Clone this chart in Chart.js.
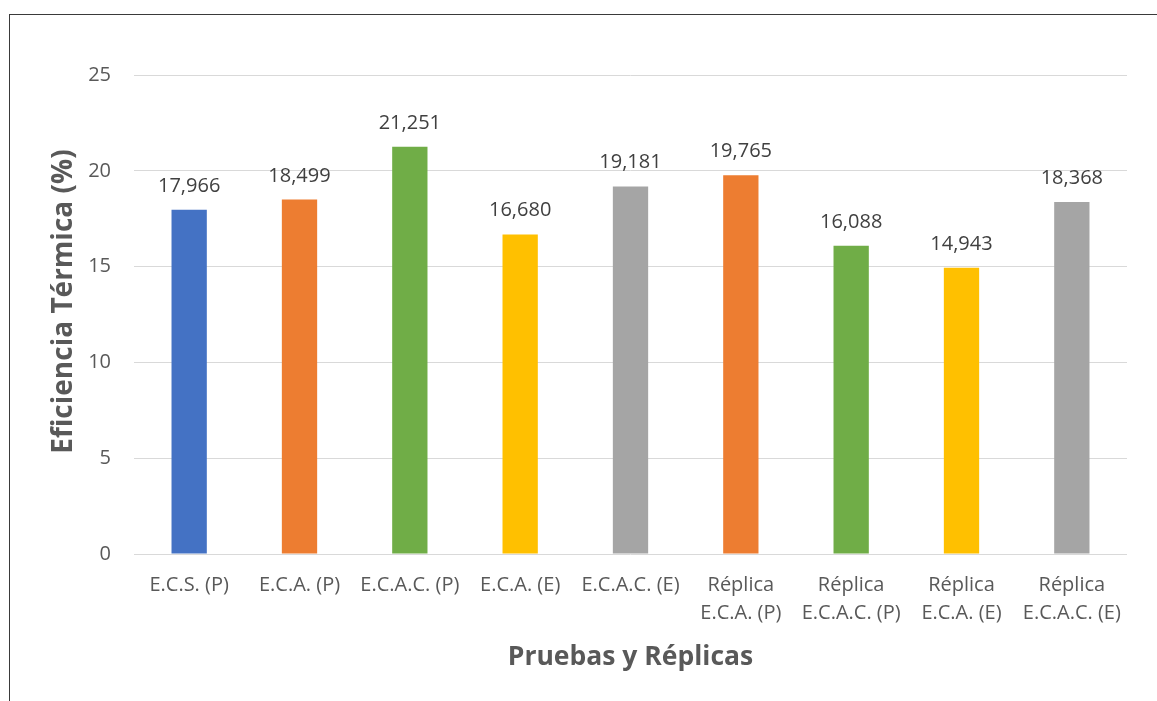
<!DOCTYPE html>
<html lang="es">
<head>
<meta charset="utf-8">
<title>Eficiencia Térmica – Pruebas y Réplicas</title>
<script src="https://cdn.jsdelivr.net/npm/chart.js@4/dist/chart.umd.min.js"></script>
<style>
  html, body { margin: 0; padding: 0; background: #ffffff; }
  body { width: 1157px; height: 701px; position: relative; overflow: hidden; }
  #frame {
    position: absolute; left: 9px; top: 14px; width: 1200px; height: 800px;
    border-top: 1px solid #3a3a3a; border-left: 1px solid #3a3a3a;
    pointer-events: none;
  }
  #wrap { position: absolute; left: 0; top: 0; width: 1157px; height: 701px; }
</style>
</head>
<body>
<div id="wrap"><canvas id="chart" width="1157" height="701"></canvas></div>
<div id="frame"></div>
<script>
// Categories (multi-line labels are arrays of lines)
const categories = [
  'E.C.S. (P)',
  'E.C.A. (P)',
  'E.C.A.C. (P)',
  'E.C.A. (E)',
  'E.C.A.C. (E)',
  ['Réplica', 'E.C.A. (P)'],
  ['Réplica', 'E.C.A.C. (P)'],
  ['Réplica', 'E.C.A. (E)'],
  ['Réplica', 'E.C.A.C. (E)']
];

// Thermal efficiency (%) per test
const efficiency = [17.966, 18.499, 21.251, 16.680, 19.181, 19.765, 16.088, 14.943, 18.368];

// Bar fill colours, one per test
const barColors = ['#4472C4', '#ED7D31', '#70AD47', '#FFC000', '#A5A5A5',
                   '#ED7D31', '#70AD47', '#FFC000', '#A5A5A5'];

// Y axis range and step
const yMin = 0;
const yMax = 25;
const yStep = 5;

const axisTitleY = 'Eficiencia Térmica (%)';
const axisTitleX = 'Pruebas y Réplicas';

const FONT = "'Open Sans', 'Noto Sans', sans-serif";

// Value labels above each bar, decimal comma, three decimals
const valueLabels = {
  id: 'valueLabels',
  afterDatasetsDraw(chart) {
    const ctx = chart.ctx;
    const meta = chart.getDatasetMeta(0);
    const data = chart.data.datasets[0].data;
    ctx.save();
    ctx.font = '20px ' + FONT;
    ctx.fillStyle = '#404040';
    ctx.textAlign = 'center';
    ctx.textBaseline = 'alphabetic';
    meta.data.forEach((bar, i) => {
      const text = data[i].toFixed(3).replace('.', ',');
      ctx.fillText(text, bar.x, bar.y - 18);
    });
    ctx.restore();
  }
};

// Vertical axis title, set a little above the plot's mid-height
const yAxisTitle = {
  id: 'yAxisTitle',
  afterDraw(chart) {
    const ctx = chart.ctx;
    const area = chart.chartArea;
    const cy = (area.top + area.bottom) / 2 - 13;
    ctx.save();
    ctx.translate(72, cy);
    ctx.rotate(-Math.PI / 2);
    ctx.font = 'bold 28px ' + FONT;
    ctx.fillStyle = '#595959';
    ctx.textAlign = 'center';
    ctx.textBaseline = 'alphabetic';
    ctx.fillText(axisTitleY, 0, 0);
    ctx.restore();
  }
};

new Chart(document.getElementById('chart'), {
  type: 'bar',
  data: {
    labels: categories,
    datasets: [{
      data: efficiency,
      backgroundColor: barColors,
      borderWidth: 0,
      barPercentage: 0.32,
      categoryPercentage: 1.0
    }]
  },
  options: {
    responsive: false,
    animation: false,
    devicePixelRatio: 1,
    layout: { padding: { top: 75, right: 30, bottom: 0, left: 0 } },
    plugins: {
      legend: { display: false },
      tooltip: { enabled: false },
      title: { display: false }
    },
    scales: {
      x: {
        grid: { display: false, drawTicks: false },
        border: { display: false },
        ticks: {
          color: '#595959',
          font: { family: FONT, size: 20, lineHeight: 1.42 },
          padding: 17,
          maxRotation: 0,
          minRotation: 0,
          autoSkip: false
        },
        title: {
          display: true,
          text: axisTitleX,
          color: '#595959',
          font: { family: FONT, size: 26.5, weight: 'bold', lineHeight: 1.2 },
          padding: { top: 0, bottom: 28 }
        },
        afterFit(scale) { scale.height = 147; }
      },
      y: {
        min: yMin,
        max: yMax,
        grid: { color: '#d9d9d9', lineWidth: 1, drawTicks: false },
        border: { display: false },
        ticks: {
          stepSize: yStep,
          color: '#595959',
          font: { family: FONT, size: 20 },
          padding: 23
        },
        title: { display: false },
        afterFit(scale) { scale.width = 134; }
      }
    }
  },
  plugins: [valueLabels, yAxisTitle]
});
</script>
</body>
</html>
